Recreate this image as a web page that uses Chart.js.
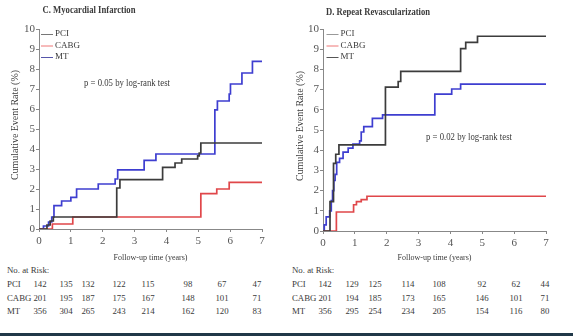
<!DOCTYPE html>
<html><head><meta charset="utf-8">
<script src="https://cdn.jsdelivr.net/npm/chart.js@4/dist/chart.umd.min.js"></script>
<style>
html,body{margin:0;padding:0;background:#fff;}
#wrap{position:relative;width:573px;height:336px;overflow:hidden;background:#fff;font-family:"Liberation Serif",serif;color:#3a3a3a;}
.cv{position:absolute;top:0;height:265px;}
.t{position:absolute;font-size:8.8px;line-height:10px;white-space:nowrap;transform:translate(-50%,-50%);}
.l{position:absolute;font-size:8.8px;line-height:10px;white-space:nowrap;transform:translateY(-50%);}
#bar{position:absolute;left:0;top:333px;width:573px;height:3px;background:#203848;}
</style></head>
<body><div id="wrap">
<div class="cv" style="left:0;width:287px"><canvas id="c1" width="287" height="265"></canvas></div>
<div class="cv" style="left:287px;width:286px"><canvas id="c2" width="286" height="265"></canvas></div>
<div id="tables"></div>
<div id="bar"></div>
</div>
<script>
// ---- data (years, cumulative event rate %) ----
const years = [0, 1, 2, 3, 4, 5, 6, 7];
const groups = ['PCI', 'CABG', 'MT'];

// C. Myocardial Infarction
const miPciT  = [0, 0.25, 0.35, 0.45, 2.44, 2.54, 3.88, 4.27, 4.48, 4.98, 5.03, 5.08, 7];
const miPciV  = [0, 0.2, 0.4, 0.6, 2.05, 2.47, 3.08, 3.3, 3.5, 3.66, 3.8, 4.3, 4.3];
const miCabgT = [0, 0.42, 1.06, 5.08, 5.58, 5.97, 7];
const miCabgV = [0, 0.25, 0.6, 1.77, 2.0, 2.33, 2.33];
const miMtT   = [0, 0.14, 0.3, 0.4, 0.47, 0.71, 1.0, 1.18, 1.86, 2.39, 2.47, 3.3, 3.67, 5.52, 5.6, 5.97, 6.01, 6.37, 6.7, 7];
const miMtV   = [0, 0.15, 0.35, 0.6, 1.17, 1.4, 1.58, 2.0, 2.25, 2.5, 2.96, 3.43, 3.75, 5.96, 6.4, 6.75, 7.25, 7.8, 8.38, 8.38];

// D. Repeat Revascularization
const rrPciT  = [0, 0.22, 0.33, 0.4, 0.5, 1.96, 2.36, 2.44, 4.32, 4.48, 4.85, 7];
const rrPciV  = [0, 1.45, 3.35, 3.8, 4.26, 7.12, 7.4, 7.9, 9.03, 9.34, 9.64, 9.64];
const rrCabgT = [0, 0.42, 0.96, 1.05, 1.2, 1.38, 7];
const rrCabgV = [0, 0.94, 1.3, 1.45, 1.55, 1.72, 1.72];
const rrMtT   = [0, 0.04, 0.1, 0.21, 0.26, 0.3, 0.34, 0.38, 0.43, 0.52, 0.63, 0.79, 0.94, 1.15, 1.2, 1.28, 1.55, 1.87, 3.51, 4.04, 4.32, 7];
const rrMtV   = [0, 0.3, 0.7, 1.0, 1.5, 2.0, 2.5, 2.8, 3.4, 3.6, 3.9, 4.1, 4.3, 4.46, 4.9, 5.17, 5.58, 5.75, 6.78, 7.03, 7.27, 7.27];

// No. at risk
const miRiskPci  = [142, 135, 132, 122, 115, 98, 67, 47];
const miRiskCabg = [201, 195, 187, 175, 167, 148, 101, 71];
const miRiskMt   = [356, 304, 265, 243, 214, 162, 120, 83];
const rrRiskPci  = [142, 129, 125, 114, 108, 92, 62, 44];
const rrRiskCabg = [201, 194, 185, 173, 165, 146, 101, 71];
const rrRiskMt   = [356, 295, 254, 234, 205, 154, 116, 80];

// ---- styling ----
const COLORS = { PCI: '#3c3c3c', CABG: '#e0474a', MT: '#3e3ed0' };
const FONT = 'Liberation Serif';

function pts(t, v) { return t.map((x, i) => ({ x: x, y: v[i] })); }

function fitText(ctx, txt, x, y, font, w, align, rot) {
  ctx.save();
  ctx.font = font;
  const m = ctx.measureText(txt).width;
  const k = w ? w / m : 1;
  ctx.translate(x, y);
  if (rot) ctx.rotate(rot);
  ctx.scale(k, 1);
  ctx.textAlign = align || 'center';
  ctx.textBaseline = 'middle';
  ctx.fillStyle = '#3a3a3a';
  ctx.fillText(txt, 0, 0);
  ctx.restore();
}

const annot = {
  id: 'annot',
  afterDraw(chart, args, o) {
    const ctx = chart.ctx;
    const a = chart.chartArea;
    fitText(ctx, o.title, o.titleX, o.titleY, 'bold 10.5px "' + FONT + '"', o.titleW, 'left');
    fitText(ctx, o.pText, o.pX, o.pY, '9.5px "' + FONT + '"', 86, 'center');
    fitText(ctx, 'Cumulative Event Rate (%)', o.yTitleX, (a.top + a.bottom) / 2 - 4, '9.5px "' + FONT + '"', 110, 'center', -Math.PI / 2);
    fitText(ctx, 'Follow-up time (years)', (a.left + a.right) / 2, 258, '9px "' + FONT + '"', 74, 'center');
    // legend
    groups.forEach((g, i) => {
      const y = o.legY + i * 11.5;
      ctx.save();
      ctx.strokeStyle = o.legColors[i];
      ctx.lineWidth = 1;
      ctx.beginPath();
      ctx.moveTo(o.legX, y + 0.5);
      ctx.lineTo(o.legX + 12, y + 0.5);
      ctx.stroke();
      ctx.restore();
      fitText(ctx, g, o.legX + 14, y, '9px "' + FONT + '"', null, 'left');
    });
  }
};

function axis(min, max, L, isX) {
  return {
    type: 'linear', min: min, max: max,
    ticks: { stepSize: 1, color: '#555', font: { family: FONT, size: 11 }, padding: isX ? 3 : 1, maxRotation: 0, autoSkip: false },
    grid: { drawOnChartArea: false, tickLength: 3, color: '#888' },
    border: { color: '#888', width: 1 },
    afterFit: isX ? (s => { s.height = L.xh; }) : (s => { s.width = L.yw; })
  };
}

function makeChart(id, sets, L, ann) {
  return new Chart(document.getElementById(id), {
    type: 'line',
    data: {
      datasets: sets.map(s => ({
        label: s.name, data: pts(s.t, s.v), borderColor: COLORS[s.name],
        borderWidth: 1.7, pointRadius: 0, stepped: 'before', fill: false
      }))
    },
    options: {
      responsive: false, animation: false,
      layout: { padding: { left: 0, top: L.top, right: L.right, bottom: 0 } },
      plugins: { legend: { display: false }, tooltip: { enabled: false }, title: { display: false }, annot: ann },
      scales: { x: axis(0, 7, L, true), y: axis(0, 10, L, false) }
    },
    plugins: [annot]
  });
}

makeChart('c1', [
  { name: 'PCI', t: miPciT, v: miPciV },
  { name: 'CABG', t: miCabgT, v: miCabgV },
  { name: 'MT', t: miMtT, v: miMtV }
], { top: 29, right: 25, xh: 36, yw: 39 }, {
  title: 'C. Myocardial Infarction', titleX: 42.5, titleY: 10, titleW: 93,
  pText: 'p = 0.05 by log-rank test', pX: 127, pY: 83,
  yTitleX: 15, legX: 41, legY: 34, legColors: ['#777', '#e77', '#55a']
});

makeChart('c2', [
  { name: 'PCI', t: rrPciT, v: rrPciV },
  { name: 'CABG', t: rrCabgT, v: rrCabgV },
  { name: 'MT', t: rrMtT, v: rrMtV }
], { top: 29, right: 27, xh: 34, yw: 36 }, {
  title: 'D. Repeat Revascularization', titleX: 39, titleY: 12.5, titleW: 104,
  pText: 'p = 0.02 by log-rank test', pX: 182, pY: 137,
  yTitleX: 13.5, legX: 39.5, legY: 34, legColors: ['#999', '#e77', '#555']
});

// ---- No. at risk tables ----
const tables = [
  { x0: 7, cols: [40, 66, 88, 119, 148, 188, 222, 257], rows: [miRiskPci, miRiskCabg, miRiskMt] },
  { x0: 292, cols: [325, 352, 375, 408, 439, 482, 516, 545], rows: [rrRiskPci, rrRiskCabg, rrRiskMt] }
];
const rowY = [284, 298, 311];
const host = document.getElementById('tables');
let html = '';
tables.forEach(tb => {
  html += '<div class="l" style="left:' + tb.x0 + 'px;top:270px">No. at Risk:</div>';
  tb.rows.forEach((r, ri) => {
    html += '<div class="l" style="left:' + tb.x0 + 'px;top:' + rowY[ri] + 'px">' + groups[ri] + '</div>';
    r.forEach((n, ci) => {
      html += '<div class="t" style="left:' + tb.cols[ci] + 'px;top:' + rowY[ri] + 'px">' + n + '</div>';
    });
  });
});
host.innerHTML = html;
</script>
</body></html>
